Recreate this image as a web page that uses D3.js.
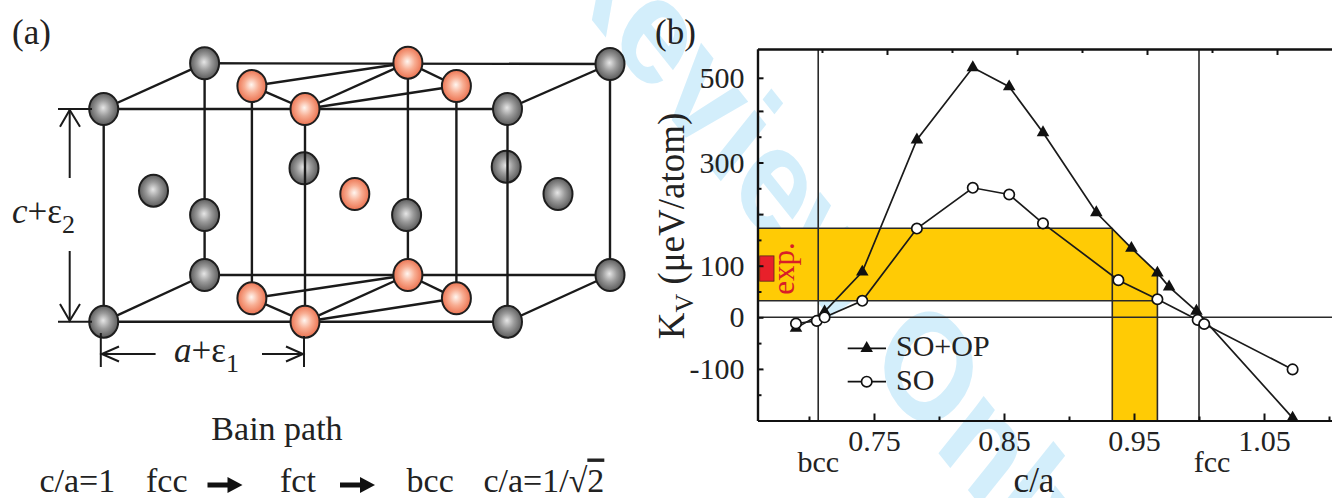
<!DOCTYPE html>
<html>
<head>
<meta charset="utf-8">
<script src="https://cdn.jsdelivr.net/npm/d3@7"></script>
<style>
body { margin: 0; background: #fff; }
svg { display: block; }
svg text { font-family: "Liberation Serif", "Times New Roman", Times, "DejaVu Serif", serif; }
svg text.wm { font-family: "Liberation Sans", Arial, sans-serif; }
</style>
</head>
<body>
<script>
// ---- panel (b) data ----
var caSOOP = [0.690, 0.712, 0.741, 0.783, 0.826, 0.854, 0.880, 0.921, 0.948, 0.968, 0.977, 0.998, 1.072];
var kvSOOP = [-21, 11, 88, 344, 531, 473, 358, 203, 134, 86, 59, 12, -195];
var caSO = [0.690, 0.706, 0.712, 0.741, 0.783, 0.826, 0.854, 0.880, 0.938, 0.968, 0.999, 1.004, 1.072];
var kvSO = [-12, -7, 0, 32, 172, 251, 238, 182, 72, 35, -5, -13, -101];

var expKv = [32, 172.5];        // experimental K_V window
var expCa = [0.9333, 0.968];    // c/a window where SO+OP hits it
var expMark = [70, 119];        // red "exp." box
var bccCa = 0.7071, fccCa = 1.0;

var xMajor = [0.75, 0.85, 0.95, 1.05];
var xMinor = [0.70, 0.80, 0.90, 1.00, 1.10];
var xTopMajor = [0.76, 0.86, 0.96, 1.06];
var xTopMinor = [0.71, 0.81, 0.91, 1.01];
var yMajor = [-100, 0, 100, 200, 300, 400, 500];
var yMinor = [-150, -50, 50, 150, 250, 350];
var yLabelled = [-100, 0, 100, 300, 500];
var legendNames = ["SO+OP", "SO"];

// ---- panel (a) structure (pixel layout of the drawing) ----
var graySpheres = [[103.7,109],[204.6,63.3],[507.5,109],[610,64],[103.7,321.7],[204.6,275],
  [507.5,321.7],[610,275],[153.5,190.7],[204.6,215],[406.6,215],[558,194]];
var grayBehind = [[304,168.3],[506.2,166.7]];
var orangeSpheres = [[407.9,62.7],[251.9,86],[456.4,86],[305,109],[354.8,194],
  [407.9,275],[251.9,298.3],[456.4,298.3],[305,321.7]];
var cellEdges = [
  [103.7,109,507.5,109],[204.6,63.3,610,64],[103.7,109,204.6,63.3],[507.5,109,610,64],
  [103.7,321.7,507.5,321.7],[204.6,275,610,275],[103.7,321.7,204.6,275],[507.5,321.7,610,275],
  [103.7,109,103.7,321.7],[204.6,63.3,204.6,275],[507.5,109,507.5,321.7],[610,64,610,275],
  [305,109,305,321.7],[407.9,62.7,407.9,275],[251.9,86,251.9,298.3],[456.4,86,456.4,298.3],
  [251.9,86,407.9,62.7],[251.9,86,305,109],[305,109,407.9,62.7],[305,109,456.4,86],[407.9,62.7,456.4,86],
  [251.9,298.3,407.9,275],[251.9,298.3,305,321.7],[305,321.7,407.9,275],[305,321.7,456.4,298.3],[407.9,275,456.4,298.3]
];

var W = 1332, H = 498;
var svg = d3.select("body").append("svg").attr("width", W).attr("height", H);
svg.append("rect").attr("width", W).attr("height", H).attr("fill", "#fff");

// watermark sits under everything (45 deg text in a horizontally squeezed figure)
svg.append("text").attr("class", "wm")
  .attr("transform", "translate(383,-241) scale(0.8,1) rotate(45)")
  .attr("font-size", 152).attr("font-weight", "bold")
  .attr("fill", "#d3eefb")
  .text("For Review Only");

// ================= panel (b) =================
var x = d3.scaleLinear().domain([0.6604, 1.1023]).range([757.5, 1332]);
var y = d3.scaleLinear().domain([-200, 400, 587]).range([420.5, 110.9, 49]);
var x0 = x.domain()[0], yBottom = -200;

var b = svg.append("g");

// yellow window: horizontal band + vertical strip, cut along the SO+OP curve
var inside = caSOOP.map(function(c, i) { return [c, kvSOOP[i]]; })
  .filter(function(p) { return p[0] > expCa[0] && p[0] <= expCa[1]; });
var poly = [[x0, expKv[1]], [expCa[0], expKv[1]]].concat(inside)
  .concat([[expCa[1], yBottom], [expCa[0], yBottom], [expCa[0], expKv[0]], [x0, expKv[0]]]);
b.append("polygon")
  .attr("points", poly.map(function(p) { return x(p[0]) + "," + y(p[1]); }).join(" "))
  .attr("fill", "#ffcb05");

function seg(x1, y1, x2, y2) {
  return b.append("line").attr("x1", x(x1)).attr("y1", y(y1)).attr("x2", x(x2)).attr("y2", y(y2))
    .attr("stroke", "#2a2a2a").attr("stroke-width", 1.6);
}
seg(x0, expKv[1], expCa[0], expKv[1]);
seg(x0, expKv[0], expCa[1], expKv[0]);
seg(expCa[0], expKv[1], expCa[0], yBottom);
seg(expCa[1], inside[inside.length - 1][1], expCa[1], yBottom);
seg(bccCa, 587, bccCa, yBottom);
seg(fccCa, 587, fccCa, yBottom);
seg(x0, 0, x.domain()[1], 0);

// exp. marker
b.append("rect")
  .attr("x", x(0.6621)).attr("y", y(expMark[1]))
  .attr("width", x(0.6731) - x(0.6621)).attr("height", y(expMark[0]) - y(expMark[1]))
  .attr("fill", "#e8202a").attr("stroke", "#5a2a1a").attr("stroke-width", 0.8);
b.append("text")
  .attr("transform", "translate(794," + y((expMark[0] + expMark[1]) / 2) + ") rotate(-90)")
  .attr("text-anchor", "middle").attr("font-size", 31).attr("fill", "#d81e28")
  .text("exp.");

// series
var line = d3.line().x(function(d) { return x(d[0]); }).y(function(d) { return y(d[1]); });
var soop = caSOOP.map(function(c, i) { return [c, kvSOOP[i]]; });
var so = caSO.map(function(c, i) { return [c, kvSO[i]]; });
[soop, so].forEach(function(s) {
  b.append("path").datum(s).attr("d", line)
    .attr("fill", "none").attr("stroke", "#1a1a1a").attr("stroke-width", 1.7);
});
var tri = d3.symbol().type(d3.symbolTriangle).size(68);
b.selectAll(".tri").data(soop).enter().append("path")
  .attr("transform", function(d) { return "translate(" + x(d[0]) + "," + y(d[1]) + ")"; })
  .attr("d", tri).attr("fill", "#111");
b.selectAll(".circ").data(so).enter().append("circle")
  .attr("cx", function(d) { return x(d[0]); }).attr("cy", function(d) { return y(d[1]); })
  .attr("r", 5.2).attr("fill", "#fff").attr("stroke", "#111").attr("stroke-width", 1.7);

// axes (inward ticks)
function styleAxis(g) {
  g.attr("font-family", null).attr("font-size", null);
  g.selectAll("path.domain").attr("stroke", "#111").attr("stroke-width", 2.2);
  g.selectAll(".tick line").attr("stroke", "#111").attr("stroke-width", 2);
  g.selectAll("text").attr("font-size", 30).attr("fill", "#222");
}
var gl = b.append("g").attr("transform", "translate(" + x(x0) + ",0)");
gl.append("g").call(d3.axisLeft(y).tickValues(yMajor).tickSize(-6).tickSizeOuter(0).tickPadding(13)
  .tickFormat(function(d) { return yLabelled.indexOf(d) >= 0 ? String(d) : ""; })).call(styleAxis);
gl.append("g").call(d3.axisLeft(y).tickValues(yMinor).tickSize(-4).tickSizeOuter(0).tickFormat(""))
  .call(styleAxis);

var gb = b.append("g").attr("transform", "translate(0," + y(yBottom) + ")");
gb.append("g").call(d3.axisBottom(x).tickValues(xMajor).tickSize(-7).tickSizeOuter(0).tickPadding(9)
  .tickFormat(d3.format(".2f"))).call(styleAxis);
gb.append("g").call(d3.axisBottom(x).tickValues(xMinor).tickSize(-4).tickSizeOuter(0).tickFormat(""))
  .call(styleAxis);

var gt = b.append("g").attr("transform", "translate(0," + y(587) + ")");
gt.append("g").call(d3.axisTop(x).tickValues(xTopMajor).tickSize(-6).tickSizeOuter(0).tickFormat(""))
  .call(styleAxis);
gt.append("g").call(d3.axisTop(x).tickValues(xTopMinor).tickSize(-4).tickSizeOuter(0).tickFormat(""))
  .call(styleAxis);

b.selectAll(".phase").data([["bcc", bccCa], ["fcc", 1.01]]).enter().append("text")
  .attr("x", function(d) { return x(d[1]); }).attr("y", 471.5)
  .attr("text-anchor", "middle").attr("font-size", 30).attr("fill", "#222")
  .text(function(d) { return d[0]; });
b.append("text").attr("x", 1034).attr("y", 491.5).attr("text-anchor", "middle")
  .attr("font-size", 35).attr("fill", "#222").text("c/a");

var yl = b.append("text")
  .attr("transform", "translate(684,226) rotate(-90)")
  .attr("text-anchor", "middle").attr("font-size", 37).attr("fill", "#222");
yl.append("tspan").text("K");
yl.append("tspan").attr("font-size", 26).attr("dy", 9).text("V");
yl.append("tspan").attr("dy", -9).text(" (\u03bceV/atom)");

b.append("text").attr("x", 655).attr("y", 44).attr("font-size", 35).attr("fill", "#222").text("(b)");

// legend
var leg = b.append("g").attr("transform", "translate(847.7,348.3)");
legendNames.forEach(function(name, i) {
  var g = leg.append("g").attr("transform", "translate(0," + i * 33.4 + ")");
  g.append("line").attr("x1", 0).attr("x2", 38.3).attr("stroke", "#111").attr("stroke-width", 1.7);
  if (i === 0) g.append("path").attr("transform", "translate(19,0)").attr("d", tri).attr("fill", "#111");
  else g.append("circle").attr("cx", 19).attr("r", 5.2).attr("fill", "#fff").attr("stroke", "#111").attr("stroke-width", 1.7);
  g.append("text").attr("x", 48.3).attr("y", 8).attr("font-size", 30).attr("fill", "#222").text(name);
});

// ================= panel (a) =================
var a = svg.append("g");
var defs = svg.append("defs");
function grad(id, stops) {
  var gr = defs.append("radialGradient").attr("id", id).attr("cx", "50%").attr("cy", "50%").attr("r", "55%")
    .attr("fx", "48%").attr("fy", "46%");
  stops.forEach(function(s) { gr.append("stop").attr("offset", s[0]).attr("stop-color", s[1]); });
}
grad("gGray", [["0%", "#e6e6e6"], ["45%", "#9a9a9a"], ["100%", "#505050"]]);
grad("gOrange", [["0%", "#fff6f0"], ["45%", "#f8ad92"], ["100%", "#e96845"]]);

function spheres(data, fill) {
  a.selectAll(null).data(data).enter().append("ellipse")
    .attr("cx", function(d) { return d[0]; }).attr("cy", function(d) { return d[1]; })
    .attr("rx", 14.5).attr("ry", 16)
    .attr("fill", fill).attr("stroke", "#1e1e1e").attr("stroke-width", 2);
}
spheres(grayBehind, "url(#gGray)");
a.selectAll(null).data(cellEdges).enter().append("line")
  .attr("x1", function(d) { return d[0]; }).attr("y1", function(d) { return d[1]; })
  .attr("x2", function(d) { return d[2]; }).attr("y2", function(d) { return d[3]; })
  .attr("stroke", "#1a1a1a").attr("stroke-width", 2.4);
spheres(graySpheres, "url(#gGray)");
spheres(orangeSpheres, "url(#gOrange)");

// dimension marks
var dims = [
  "M58,109H92", "M58,321.7H92", "M69.7,110V178", "M69.7,251V320.7",
  "M60,126.7L69.7,110L80,126.7", "M60,304L69.7,320.7L80,304",
  "M100.8,333V367", "M304,336V367", "M101.8,354H155.6", "M262,354H303",
  "M119,346.5L101.8,354L119,361.5", "M286,346.5L303,354L286,361.5"
];
a.selectAll(null).data(dims).enter().append("path").attr("d", function(d) { return d; })
  .attr("fill", "none").attr("stroke", "#1a1a1a").attr("stroke-width", 2);

var c2 = a.append("text").attr("x", 12).attr("y", 223).attr("font-size", 35).attr("fill", "#222");
c2.append("tspan").attr("font-style", "italic").text("c");
c2.append("tspan").text("+\u03b5");
c2.append("tspan").attr("font-size", 26).attr("dy", 10).text("2");
var a1 = a.append("text").attr("x", 174).attr("y", 362).attr("font-size", 35).attr("fill", "#222");
a1.append("tspan").attr("font-style", "italic").text("a");
a1.append("tspan").text("+\u03b5");
a1.append("tspan").attr("font-size", 26).attr("dy", 10).text("1");

a.append("text").attr("x", 12).attr("y", 44).attr("font-size", 35).attr("fill", "#222").text("(a)");
a.append("text").attr("x", 277).attr("y", 440).attr("text-anchor", "middle")
  .attr("font-size", 34).attr("fill", "#222").text("Bain path");

var row = [["c/a=1", 39.4], ["fcc", 146], ["fct", 280], ["bcc", 406.6]];
a.selectAll(null).data(row).enter().append("text")
  .attr("x", function(d) { return d[1]; }).attr("y", 491.5)
  .attr("font-size", 34).attr("fill", "#222").text(function(d) { return d[0]; });
var last = a.append("text").attr("x", 483.4).attr("y", 491.5).attr("font-size", 34).attr("fill", "#222");
last.append("tspan").text("c/a=1/\u221a");
last.append("tspan").style("text-decoration", "overline").text("2");

[207.5, 340].forEach(function(x1) {
  a.append("path")
    .attr("d", "M" + x1 + ",482.5H" + (x1 + 20) + "V477L" + (x1 + 35) + ",485L" + (x1 + 20) + ",493V487.5H" + x1 + "Z")
    .attr("fill", "#111");
});
</script>
</body>
</html>
